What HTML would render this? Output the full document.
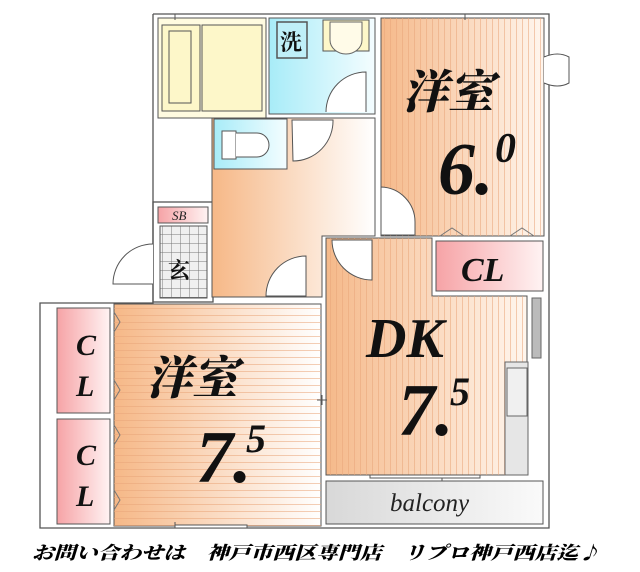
<!DOCTYPE html>
<html><head><meta charset="utf-8"><style>
html,body{margin:0;padding:0;background:#fff;width:640px;height:572px;overflow:hidden}
</style></head><body>
<svg width="640" height="572" viewBox="0 0 640 572" xmlns="http://www.w3.org/2000/svg">
<defs>
<linearGradient id="or" x1="0" x2="1" y1="0" y2="0"><stop offset="0" stop-color="#f5b98a"/><stop offset="1" stop-color="#fff6ee"/></linearGradient>
<linearGradient id="or2" x1="0" x2="1"><stop offset="0" stop-color="#f6b887"/><stop offset="1" stop-color="#fff"/></linearGradient>
<linearGradient id="bl" x1="0" x2="1"><stop offset="0" stop-color="#a8ecf8"/><stop offset="1" stop-color="#f4fdff"/></linearGradient>
<linearGradient id="pk" x1="0" x2="1"><stop offset="0" stop-color="#f6a3a6"/><stop offset="1" stop-color="#fff3f3"/></linearGradient>
<linearGradient id="gr" x1="0" x2="1"><stop offset="0" stop-color="#d8d8d8"/><stop offset="1" stop-color="#fafafa"/></linearGradient>
<pattern id="vs" width="6" height="10" patternUnits="userSpaceOnUse"><rect x="0" y="0" width="1" height="10" fill="#e9a57a" opacity=".55"/></pattern>
<pattern id="hs" width="10" height="7" patternUnits="userSpaceOnUse"><rect x="0" y="0" width="10" height="1" fill="#e9a57a" opacity=".55"/></pattern>
<pattern id="tile" width="9" height="9" patternUnits="userSpaceOnUse"><rect width="9" height="9" fill="#f0f0f0"/><path d="M0 0H9M0 0V9" stroke="#777" stroke-width="1"/></pattern>
</defs>
<!-- outer walls -->
<g fill="none" stroke="#555" stroke-width="1.3">
<path d="M153 14H549V528H40V303H153V14"/>
</g>
<rect x="153" y="202" width="60" height="100" fill="none" stroke="#555" stroke-width="1.3"/>
<!-- bath -->
<rect x="158" y="18" width="108" height="100" fill="#fffbe0" stroke="#555"/>
<rect x="162" y="25" width="38" height="86" fill="#fdf7c9" stroke="#555"/>
<rect x="169" y="31" width="22" height="72" fill="none" stroke="#555"/>
<rect x="202" y="25" width="60" height="86" fill="#fdf7c9" stroke="#555"/>
<!-- wash -->
<rect x="269" y="18" width="106" height="96" fill="url(#bl)" stroke="#555"/>
<rect x="277" y="22" width="30" height="36" fill="#bfeff8" stroke="#555" stroke-width="1.5"/>
<text x="280" y="50" font-family="Noto Serif CJK SC,serif" font-weight="bold" font-size="22" fill="#111">洗</text>
<rect x="323" y="20" width="46" height="31" fill="#fdf7c9" stroke="#555"/>
<path d="M330 22v18a16 14 0 0 0 32 0V22z" fill="#fffbe8" stroke="#666"/>
<path d="M326 112A40 40 0 0 1 366 72V112" fill="#fff" stroke="#555"/>
<!-- room 6 -->
<rect x="381" y="18" width="163" height="218" fill="url(#or)" stroke="#555"/>
<rect x="381" y="18" width="163" height="218" fill="url(#vs)"/>
<path d="M381 187A35 35 0 0 1 415 222V235H381z" fill="#fff" stroke="#555"/>
<path d="M440 236l12-8 12 8M510 236l12-8 12 8" fill="none" stroke="#777"/>
<path d="M544 57q14 -6 25 0v26q-11 6-25 0" fill="#fff" stroke="#555"/>
<!-- hall -->
<path d="M212 118H375V236H322V297H212z" fill="url(#or2)" stroke="#555"/>
<rect x="214" y="119" width="73" height="50" fill="url(#bl)" stroke="#555"/>
<rect x="222" y="131" width="14" height="28" fill="#fff" stroke="#555"/>
<path d="M236 133H257a12 12 0 0 1 0 24H236" fill="#fff" stroke="#555"/>
<path d="M292 120H333A40 40 0 0 1 293 161z" fill="#fff" stroke="#555"/>
<path d="M266 296A40 40 0 0 1 306 256V296z" fill="#fff" stroke="#555"/>
<!-- genkan -->
<rect x="158" y="207" width="50" height="16" fill="url(#pk)" stroke="#555"/>
<text x="172" y="220" font-family="Liberation Serif,serif" font-style="italic" font-size="13" fill="#222">SB</text>
<rect x="160" y="226" width="47" height="72" fill="url(#tile)" stroke="#555"/>
<text x="168" y="278" font-family="Noto Serif CJK SC,serif" font-weight="bold" font-size="22" fill="#111">玄</text>
<path d="M153 244A40 40 0 0 0 113 284H153" fill="#fff" stroke="#555"/>
<!-- DK -->
<path d="M326 238H432V296H527V475H326z" fill="url(#or)" stroke="#555"/>
<path d="M326 238H432V296H527V475H326z" fill="url(#vs)"/>
<path d="M332 240H372V280A40 40 0 0 1 332 240z" fill="#fff" stroke="#555"/>
<rect x="505" y="362" width="23" height="113" fill="#e6e6e6" stroke="#666"/>
<rect x="507" y="368" width="20" height="48" fill="#f0f0f0" stroke="#666"/>
<rect x="532" y="298" width="9" height="60" fill="#bbb" stroke="#666"/>
<!-- CL top right -->
<rect x="436" y="241" width="107" height="50" fill="url(#pk)" stroke="#555"/>
<text x="461" y="281" font-family="Liberation Serif,serif" font-style="italic" font-weight="bold" font-size="34" fill="#111">CL</text>
<!-- balcony -->
<rect x="326" y="481" width="217" height="43" fill="url(#gr)" stroke="#555"/>
<text x="390" y="511" font-family="Liberation Serif,serif" font-style="italic" font-size="25" fill="#222">balcony</text>
<!-- room 7.5 -->
<rect x="114" y="304" width="207" height="222" fill="url(#or2)" stroke="#555"/>
<rect x="114" y="304" width="207" height="222" fill="url(#hs)"/>
<rect x="57" y="308" width="53" height="105" fill="url(#pk)" stroke="#555"/>
<rect x="57" y="419" width="53" height="105" fill="url(#pk)" stroke="#555"/>
<path d="M114 312l6 10-6 10M114 380l6 10-6 10M114 425l6 10-6 10M114 490l6 10-6 10" fill="none" stroke="#777"/>
<g font-family="Liberation Serif,serif" font-style="italic" font-weight="bold" font-size="30" fill="#111">
<text x="76" y="355">C</text><text x="76" y="396">L</text>
<text x="76" y="465">C</text><text x="76" y="506">L</text>
</g>
<!-- window marks -->
<g stroke="#555"><path d="M175 14V20M465 14V20M175 522V528M442 475V481M322 395V405M317 400H327"/></g>
<rect x="175" y="525" width="72" height="3" fill="#fff" stroke="#555"/>
<rect x="370" y="475" width="110" height="3" fill="#fff" stroke="#555"/>
<!-- labels -->
<g font-family="Noto Serif CJK SC,serif" font-weight="900" font-style="italic" fill="#111">
<text x="402" y="108" font-size="46">洋室</text>
<text x="146" y="394" font-size="46">洋室</text>
</g>
<g font-family="Liberation Serif,serif" font-style="italic" font-weight="bold" fill="#111">
<text x="438" y="194" font-size="74">6.</text>
<text x="495" y="162" font-size="42">0</text>
<text x="366" y="357" font-size="56">DK</text>
<text x="398" y="435" font-size="74">7.</text>
<text x="450" y="405" font-size="40">5</text>
<text x="196" y="482" font-size="74">7.</text>
<text x="246" y="452" font-size="40">5</text>
</g>
<text x="32" y="559" font-family="Noto Serif CJK JP,serif" font-weight="900" font-style="italic" font-size="18" fill="#000" textLength="568" lengthAdjust="spacingAndGlyphs">お問い合わせは　神戸市西区専門店　リプロ神戸西店迄♪</text>
</svg>
</body></html>
